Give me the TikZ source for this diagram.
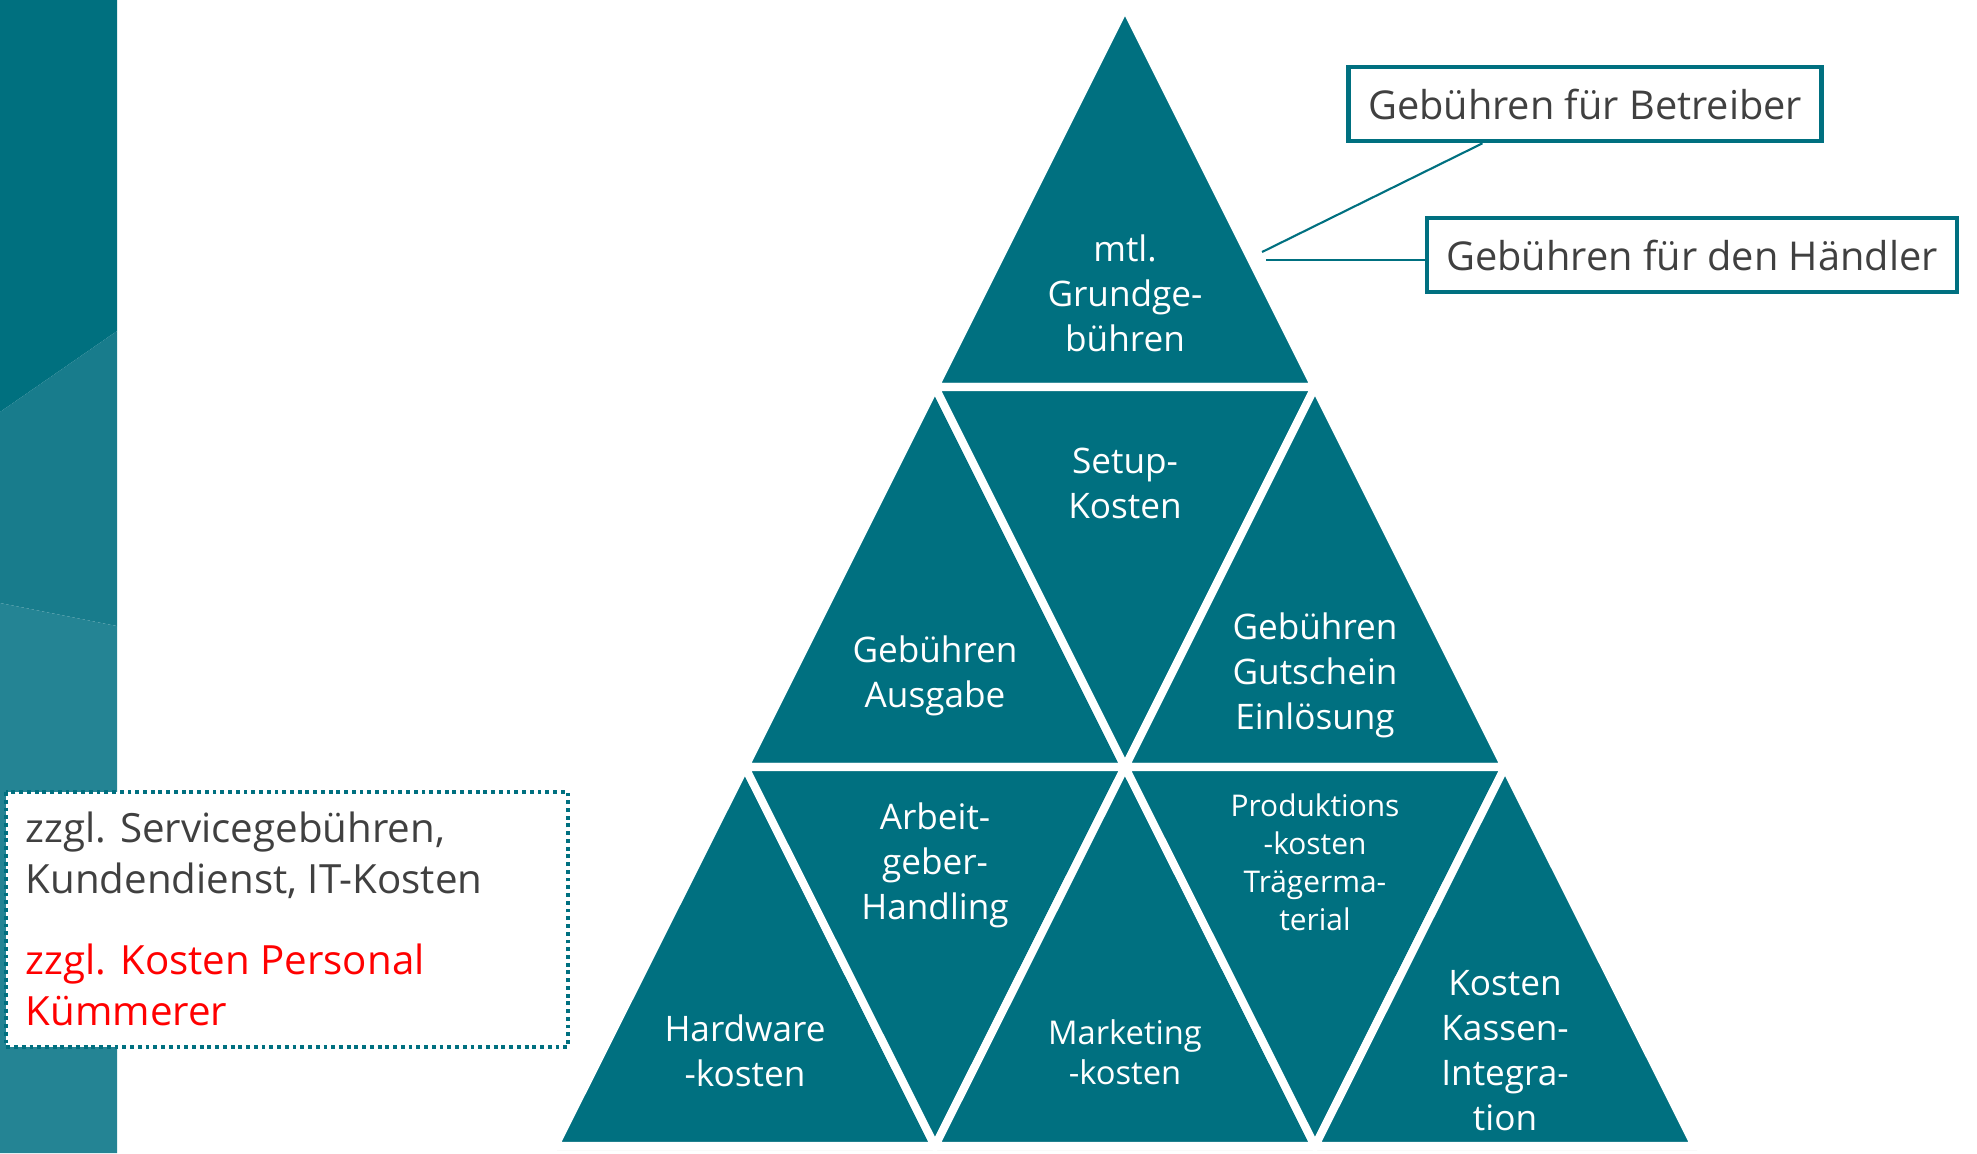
\documentclass[tikz,border=0pt]{standalone}
\usepackage{fontspec}
\setmainfont{Open Sans}
\definecolor{tealmain}{RGB}{0,112,128}
\definecolor{stripA}{RGB}{0,112,127}
\definecolor{stripB}{RGB}{24,124,140}
\definecolor{stripC}{RGB}{36,132,148}
\definecolor{txtgray}{RGB}{64,64,64}
\definecolor{txtred}{RGB}{255,0,0}
\tikzset{
  tri/.style={fill=tealmain,draw=white,line width=2.3pt},
  tshadow/.style={fill=black!22},
  tlabel/.style={text=white,align=center,inner sep=0pt,font=\fontsize{10}{12.8}\selectfont},
  tsmall/.style={text=white,align=center,inner sep=0pt,font=\fontsize{9.3}{11.4}\selectfont},
  tsmaller/.style={text=white,align=center,inner sep=0pt,font=\fontsize{8.5}{10.8}\selectfont},
  callout/.style={draw=tealmain,line width=1.3pt,fill=white,text=txtgray,inner xsep=5.5pt,minimum height=0.74cm,font=\fontsize{11.3}{13}\selectfont},
  leader/.style={draw=tealmain,line width=0.6pt},
  dotbox/.style={draw=tealmain,fill=white,line width=1.2pt,dash pattern=on 1.1pt off 1.1pt},
  boxtext/.style={anchor=base west,inner sep=0pt,align=left,font=\fontsize{11.45}{14.5}\selectfont}
}
\begin{document}
\begin{tikzpicture}[x=0.01cm,y=-0.01cm]
\useasboundingbox (0,0) rectangle (1977,1153);
% left strip
\fill[stripA] (0,0) -- (117,0) -- (117,331) -- (0,412) -- cycle;
\fill[stripB] (0,412) -- (117,331) -- (117,626) -- (0,603) -- cycle;
\fill[stripC] (0,603) -- (117,626) -- (117,1153) -- (0,1153) -- cycle;
% pyramid vertices
\coordinate (p00) at (1125,7);
\coordinate (p10) at (935,387);  \coordinate (p11) at (1315,387);
\coordinate (p20) at (745,767);  \coordinate (p21) at (1125,767); \coordinate (p22) at (1505,767);
\coordinate (p30) at (555,1146); \coordinate (p31) at (935,1146); \coordinate (p32) at (1315,1146); \coordinate (p33) at (1695,1146);
% shadow
\fill[tshadow] ([shift={(2,4)}]p00) -- ([shift={(2,4)}]p33) -- ([shift={(2,4)}]p30) -- cycle;
% triangles
\draw[tri] (p00) -- (p11) -- (p10) -- cycle;
\draw[tri] (p10) -- (p21) -- (p20) -- cycle;
\draw[tri] (p10) -- (p11) -- (p21) -- cycle;
\draw[tri] (p11) -- (p22) -- (p21) -- cycle;
\draw[tri] (p20) -- (p31) -- (p30) -- cycle;
\draw[tri] (p20) -- (p21) -- (p31) -- cycle;
\draw[tri] (p21) -- (p32) -- (p31) -- cycle;
\draw[tri] (p21) -- (p22) -- (p32) -- cycle;
\draw[tri] (p22) -- (p33) -- (p32) -- cycle;
% labels
\node[tlabel] (t1) at (1125,293) {mtl.\\Grundge-\\bühren};
\node[tlabel] (t2) at (935,676) {Gebühren\\Ausgabe};
\node[tlabel] (t3) at (1125,483) {Setup-\\Kosten};
\node[tlabel] (t4) at (1315,675) {Gebühren\\Gutschein\\Einlösung};
\node[tlabel] (t5) at (745,1051) {Hardware\\-kosten};
\node[tlabel] (t6) at (935,865) {Arbeit-\\geber-\\Handling};
\node[tsmall] (t7) at (1125,1052) {Marketing\\-kosten};
\node[tsmaller] (t8) at (1315,862) {Produktions\\-kosten\\Trägerma-\\terial};
\node[tlabel] (t9) at (1505,1051) {Kosten\\Kassen-\\Integra-\\tion};
% callouts
\node[callout] (c1) at (1585,104) {Gebühren für Betreiber};
\node[callout] (c2) at (1692,255) {Gebühren für den Händler};
\coordinate (e1) at (1262,252);
\coordinate (e2) at (1266,260);
\draw[leader] (c1.south west) ++(136,0) coordinate (s1) -- (e1);
\draw[leader] (c2.west |- e2) -- (e2);
% dotted box
\draw[dotbox] (6,792) rectangle (568,1047);
\node[boxtext,text=txtgray] (n1) at (25,893) {zzgl. Servicegebühren,\\Kundendienst, IT-Kosten};
\node[boxtext,text=txtred] (n2) at (25,1025) {zzgl. Kosten Personal\\Kümmerer};
\end{tikzpicture}
\end{document}
